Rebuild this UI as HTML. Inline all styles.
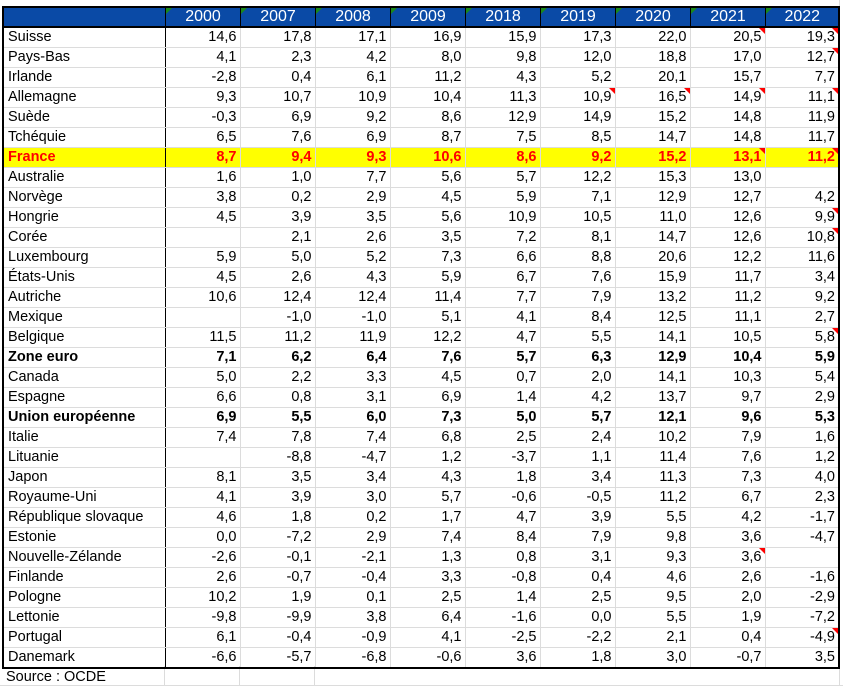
<!DOCTYPE html>
<html><head><meta charset="utf-8"><style>
body{margin:0;width:843px;height:686px;background:#fff;position:relative;overflow:hidden;font-family:"Liberation Sans",Arial,sans-serif;font-size:14.5px;color:#000}
table{position:absolute;left:2px;top:6px;border-collapse:collapse;table-layout:fixed;border:2px solid #000}
td{height:19px;padding:0 3px 0 4px;border:1px solid #dcdcdc;white-space:nowrap;text-align:right;position:relative;line-height:19px}
td:first-child{text-align:left;border-right:1.5px solid #000}
tr.h td{height:18px;line-height:18px;background:#0a4aa6;color:#fff;text-align:center;border:1px solid #000;border-bottom:2px solid #000;font-size:16px}
tr.h td.y:before{content:"";position:absolute;left:0;top:0;border-top:6px solid #1a8a1a;border-right:6px solid transparent}
tr.f td{background:#ffff00;color:#f00;font-weight:bold}
tr.b td{font-weight:bold}
td.c:after{content:"";position:absolute;right:0;top:0;border-top:6px solid #f00;border-left:6px solid transparent}
.src{position:absolute;left:6px;top:667px;font-size:14.5px;line-height:20px}
.g{position:absolute;background:#dcdcdc}
</style></head><body>
<div class="g" style="left:164px;top:666px;width:1px;height:20px"></div>
<div class="g" style="left:239px;top:666px;width:1px;height:20px"></div>
<div class="g" style="left:314px;top:666px;width:1px;height:20px"></div>
<div class="g" style="left:839px;top:0;width:1px;height:686px"></div>
<div class="g" style="left:0;top:685px;width:843px;height:1px"></div>
<table>
<colgroup><col style="width:162px"><col style="width:75px"><col style="width:75px"><col style="width:75px"><col style="width:75px"><col style="width:75px"><col style="width:75px"><col style="width:75px"><col style="width:75px"><col style="width:74px"></colgroup>
<tr class="h"><td></td><td class="y">2000</td><td class="y">2007</td><td class="y">2008</td><td class="y">2009</td><td class="y">2018</td><td class="y">2019</td><td class="y">2020</td><td class="y">2021</td><td class="y">2022</td></tr>
<tr><td>Suisse</td><td>14,6</td><td>17,8</td><td>17,1</td><td>16,9</td><td>15,9</td><td>17,3</td><td>22,0</td><td class="c">20,5</td><td class="c">19,3</td></tr>
<tr><td>Pays-Bas</td><td>4,1</td><td>2,3</td><td>4,2</td><td>8,0</td><td>9,8</td><td>12,0</td><td>18,8</td><td>17,0</td><td class="c">12,7</td></tr>
<tr><td>Irlande</td><td>-2,8</td><td>0,4</td><td>6,1</td><td>11,2</td><td>4,3</td><td>5,2</td><td>20,1</td><td>15,7</td><td>7,7</td></tr>
<tr><td>Allemagne</td><td>9,3</td><td>10,7</td><td>10,9</td><td>10,4</td><td>11,3</td><td class="c">10,9</td><td class="c">16,5</td><td class="c">14,9</td><td class="c">11,1</td></tr>
<tr><td>Suède</td><td>-0,3</td><td>6,9</td><td>9,2</td><td>8,6</td><td>12,9</td><td>14,9</td><td>15,2</td><td>14,8</td><td>11,9</td></tr>
<tr><td>Tchéquie</td><td>6,5</td><td>7,6</td><td>6,9</td><td>8,7</td><td>7,5</td><td>8,5</td><td>14,7</td><td>14,8</td><td>11,7</td></tr>
<tr class="f"><td>France</td><td>8,7</td><td>9,4</td><td>9,3</td><td>10,6</td><td>8,6</td><td>9,2</td><td>15,2</td><td class="c">13,1</td><td class="c">11,2</td></tr>
<tr><td>Australie</td><td>1,6</td><td>1,0</td><td>7,7</td><td>5,6</td><td>5,7</td><td>12,2</td><td>15,3</td><td>13,0</td><td></td></tr>
<tr><td>Norvège</td><td>3,8</td><td>0,2</td><td>2,9</td><td>4,5</td><td>5,9</td><td>7,1</td><td>12,9</td><td>12,7</td><td>4,2</td></tr>
<tr><td>Hongrie</td><td>4,5</td><td>3,9</td><td>3,5</td><td>5,6</td><td>10,9</td><td>10,5</td><td>11,0</td><td>12,6</td><td class="c">9,9</td></tr>
<tr><td>Corée</td><td></td><td>2,1</td><td>2,6</td><td>3,5</td><td>7,2</td><td>8,1</td><td>14,7</td><td>12,6</td><td class="c">10,8</td></tr>
<tr><td>Luxembourg</td><td>5,9</td><td>5,0</td><td>5,2</td><td>7,3</td><td>6,6</td><td>8,8</td><td>20,6</td><td>12,2</td><td>11,6</td></tr>
<tr><td>États-Unis</td><td>4,5</td><td>2,6</td><td>4,3</td><td>5,9</td><td>6,7</td><td>7,6</td><td>15,9</td><td>11,7</td><td>3,4</td></tr>
<tr><td>Autriche</td><td>10,6</td><td>12,4</td><td>12,4</td><td>11,4</td><td>7,7</td><td>7,9</td><td>13,2</td><td>11,2</td><td>9,2</td></tr>
<tr><td>Mexique</td><td></td><td>-1,0</td><td>-1,0</td><td>5,1</td><td>4,1</td><td>8,4</td><td>12,5</td><td>11,1</td><td>2,7</td></tr>
<tr><td>Belgique</td><td>11,5</td><td>11,2</td><td>11,9</td><td>12,2</td><td>4,7</td><td>5,5</td><td>14,1</td><td>10,5</td><td class="c">5,8</td></tr>
<tr class="b"><td>Zone euro</td><td>7,1</td><td>6,2</td><td>6,4</td><td>7,6</td><td>5,7</td><td>6,3</td><td>12,9</td><td>10,4</td><td>5,9</td></tr>
<tr><td>Canada</td><td>5,0</td><td>2,2</td><td>3,3</td><td>4,5</td><td>0,7</td><td>2,0</td><td>14,1</td><td>10,3</td><td>5,4</td></tr>
<tr><td>Espagne</td><td>6,6</td><td>0,8</td><td>3,1</td><td>6,9</td><td>1,4</td><td>4,2</td><td>13,7</td><td>9,7</td><td>2,9</td></tr>
<tr class="b"><td>Union européenne</td><td>6,9</td><td>5,5</td><td>6,0</td><td>7,3</td><td>5,0</td><td>5,7</td><td>12,1</td><td>9,6</td><td>5,3</td></tr>
<tr><td>Italie</td><td>7,4</td><td>7,8</td><td>7,4</td><td>6,8</td><td>2,5</td><td>2,4</td><td>10,2</td><td>7,9</td><td>1,6</td></tr>
<tr><td>Lituanie</td><td></td><td>-8,8</td><td>-4,7</td><td>1,2</td><td>-3,7</td><td>1,1</td><td>11,4</td><td>7,6</td><td>1,2</td></tr>
<tr><td>Japon</td><td>8,1</td><td>3,5</td><td>3,4</td><td>4,3</td><td>1,8</td><td>3,4</td><td>11,3</td><td>7,3</td><td>4,0</td></tr>
<tr><td>Royaume-Uni</td><td>4,1</td><td>3,9</td><td>3,0</td><td>5,7</td><td>-0,6</td><td>-0,5</td><td>11,2</td><td>6,7</td><td>2,3</td></tr>
<tr><td>République slovaque</td><td>4,6</td><td>1,8</td><td>0,2</td><td>1,7</td><td>4,7</td><td>3,9</td><td>5,5</td><td>4,2</td><td>-1,7</td></tr>
<tr><td>Estonie</td><td>0,0</td><td>-7,2</td><td>2,9</td><td>7,4</td><td>8,4</td><td>7,9</td><td>9,8</td><td>3,6</td><td>-4,7</td></tr>
<tr><td>Nouvelle-Zélande</td><td>-2,6</td><td>-0,1</td><td>-2,1</td><td>1,3</td><td>0,8</td><td>3,1</td><td>9,3</td><td class="c">3,6</td><td></td></tr>
<tr><td>Finlande</td><td>2,6</td><td>-0,7</td><td>-0,4</td><td>3,3</td><td>-0,8</td><td>0,4</td><td>4,6</td><td>2,6</td><td>-1,6</td></tr>
<tr><td>Pologne</td><td>10,2</td><td>1,9</td><td>0,1</td><td>2,5</td><td>1,4</td><td>2,5</td><td>9,5</td><td>2,0</td><td>-2,9</td></tr>
<tr><td>Lettonie</td><td>-9,8</td><td>-9,9</td><td>3,8</td><td>6,4</td><td>-1,6</td><td>0,0</td><td>5,5</td><td>1,9</td><td>-7,2</td></tr>
<tr><td>Portugal</td><td>6,1</td><td>-0,4</td><td>-0,9</td><td>4,1</td><td>-2,5</td><td>-2,2</td><td>2,1</td><td>0,4</td><td class="c">-4,9</td></tr>
<tr><td>Danemark</td><td>-6,6</td><td>-5,7</td><td>-6,8</td><td>-0,6</td><td>3,6</td><td>1,8</td><td>3,0</td><td>-0,7</td><td>3,5</td></tr>
</table>
<div class="src">Source : OCDE</div>
</body></html>
